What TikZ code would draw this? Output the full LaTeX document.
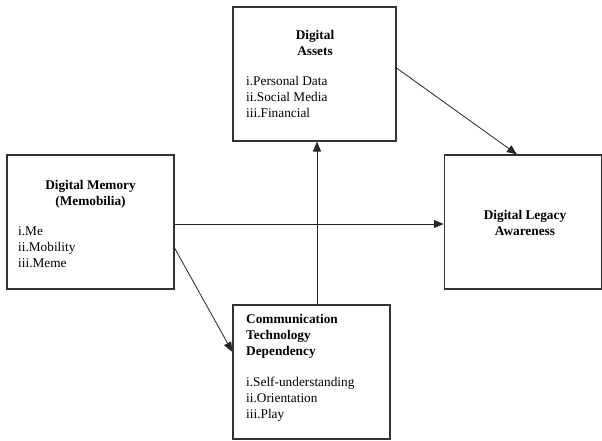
\documentclass[tikz,border=0pt]{standalone}
\usepackage{fontspec}
\setmainfont{Liberation Serif}
\usetikzlibrary{arrows.meta,calc}
\begin{document}
\begin{tikzpicture}[x=1pt,y=-1pt,
  box/.style={draw=black!80,line width=1.1pt,rectangle,inner sep=0pt},
  txt/.style={inner sep=0pt,font=\fontsize{13.3}{15.9}\selectfont},
  head/.style={txt,font=\fontsize{13.3}{15.9}\selectfont\bfseries},
  conn/.style={draw=black!85,line width=0.8pt,-{Triangle[length=10pt,width=8pt]}}]
\useasboundingbox (0,0) rectangle (602,440);
% boxes
\node[box,minimum width=167pt,minimum height=134pt] (mem) at (90.5,222) {};
\node[box,minimum width=163pt,minimum height=134pt] (ast) at (314.5,74) {};
\node[box,minimum width=157pt,minimum height=134pt] (leg) at (522.8,222) {};
\node[box,minimum width=157pt,minimum height=134pt] (com) at (311.5,372) {};
% texts (base anchor = baseline of last line)
\node[head,anchor=base,align=center] (memh) at (90.5,205) {Digital Memory\\(Memobilia)};
\node[txt,anchor=base west,align=left] (meml) at (18,267) {i.Me\\ii.Mobility\\iii.Meme};
\node[head,anchor=base,align=center] (asth) at (315,55) {Digital\\Assets};
\node[txt,anchor=base west,align=left] (astl) at (246,117) {i.Personal Data\\ii.Social Media\\iii.Financial};
\node[head,anchor=base,align=center] (legh) at (525,235) {Digital Legacy\\Awareness};
\node[head,anchor=base west,align=left] (comh) at (246,355) {Communication\\Technology\\Dependency};
\node[txt,anchor=base west,align=left] (coml) at (246,418) {i.Self-understanding\\ii.Orientation\\iii.Play};
% connector end points
\coordinate (m1) at ($(mem.east)+(0,2)$);
\coordinate (l1) at ($(leg.west)+(0,2)$);
\coordinate (m2) at ($(mem.east)+(0,26)$);
\coordinate (c2) at ($(com.west)+(0,-20)$);
\coordinate (c3) at ($(com.north)+(5.5,0)$);
\coordinate (a3) at ($(ast.south)+(2.5,0)$);
\coordinate (a4) at ($(ast.east)+(0,-6)$);
\coordinate (l4) at ($(leg.north)+(-5.8,0)$);
\draw[conn] (m1) -- (l1);
\draw[conn] (m2) -- (c2);
\draw[conn] (c3) -- (a3);
\draw[conn] (a4) -- (l4);
\end{tikzpicture}
\end{document}
